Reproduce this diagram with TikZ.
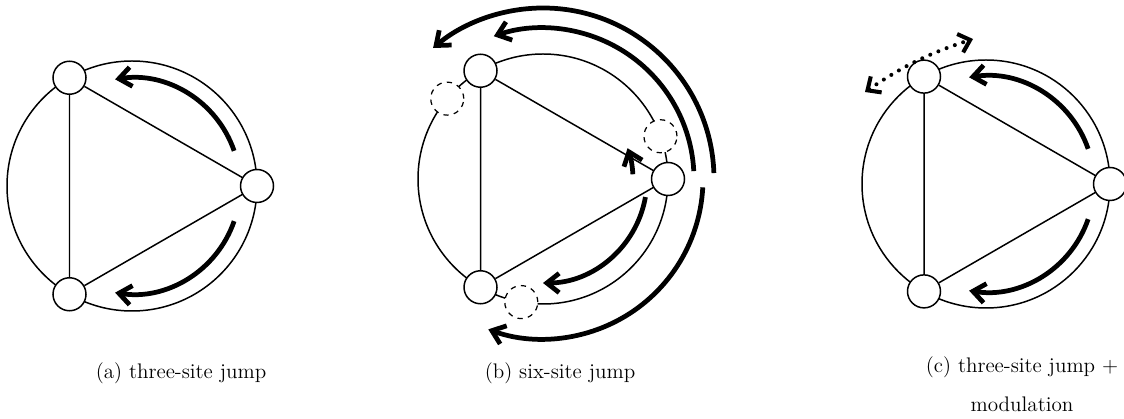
\documentclass[tikz,border=0pt]{standalone}
\usepackage{tikz}
\usetikzlibrary{arrows.meta,calc}

\begin{document}
\begin{tikzpicture}[
  x=0.2mm, y=0.2mm,
  every node/.style={font=\large},
  site/.style={draw, circle, fill=white, line width=0.85pt, minimum size=0.66cm, inner sep=0pt},
  ghost/.style={site, dashed, line width=0.7pt},
  rim/.style={line width=0.85pt},
  jump/.style={line width=2.7pt, -{Straight Barb[length=7pt, width=11pt]}},
  wobble/.style={line width=2.3pt, dash pattern=on 0pt off 5pt, line cap=round,
    {Straight Barb[length=6pt, width=11pt]}-{Straight Barb[length=6pt, width=11pt]}}
]
\useasboundingbox (0,0) rectangle (1124,419);

% (a) three-site jump
\coordinate (ca) at (132,233);
\draw[rim] (ca) circle[radius=125];
\foreach \i/\ang in {0/0, 1/120, 2/240}
  \node[site] (a\i) at ($(ca)+(\ang:125)$) {};
\draw[rim] (a0) -- (a1) -- (a2) -- (a0);
\draw[jump] ($(ca)+(19:108)$) arc[start angle=19, end angle=99, radius=108];
\draw[jump] ($(ca)+(-19:108)$) arc[start angle=-19, end angle=-99, radius=108];
\node (capa) at (181,46) {(a) three-site jump};

% (b) six-site jump
\coordinate (cb) at (543,240);
\draw[rim] (cb) circle[radius=125];
\foreach \i/\ang in {0/0, 1/120, 2/240}
  \node[site] (b\i) at ($(cb)+(\ang:125)$) {};
\foreach \i/\ang in {0/20, 1/140, 2/260}
  \node[ghost] (g\i) at ($(cb)+(\ang:125)$) {};
\draw[rim] (b0) -- (b1) -- (b2) -- (b0);
\draw[jump] ($(cb)+(3:90)$) arc[start angle=3, end angle=20, radius=90];
\draw[jump] ($(cb)+(-10:104)$) arc[start angle=-10, end angle=-90, radius=104];
\draw[jump] ($(cb)+(3:151)$) arc[start angle=3, end angle=109, radius=151];
\draw[jump] ($(cb)+(2:171)$) arc[start angle=2, end angle=130, radius=171];
\draw[jump] ($(cb)+(-3:160)$) arc[start angle=-3, end angle=-110, radius=160];
\node (capb) at (560,46) {(b) six-site jump};

% (c) three-site jump + modulation
\coordinate (cc) at (986,235);
\draw[rim] (cc) circle[radius=124];
\foreach \i/\ang in {0/0, 1/120, 2/240}
  \node[site] (c\i) at ($(cc)+(\ang:124)$) {};
\draw[rim] (c0) -- (c1) -- (c2) -- (c0);
\draw[jump] ($(cc)+(19:108)$) arc[start angle=19, end angle=99, radius=108];
\draw[jump] ($(cc)+(-19:108)$) arc[start angle=-19, end angle=-99, radius=108];
\coordinate (m0) at (865,327);
\coordinate (m1) at (973,380);
\draw[wobble] (m0) to[bend left=8] (m1);
\node[align=center] (capc) at (1022,35) {(c) three-site jump +\\[8pt] modulation};
\end{tikzpicture}
\end{document}
